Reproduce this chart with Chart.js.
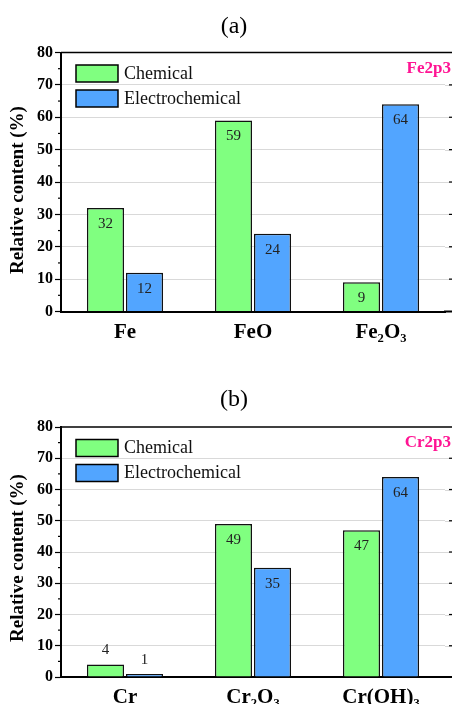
<!DOCTYPE html>
<html>
<head>
<meta charset="utf-8">
<script src="https://cdn.jsdelivr.net/npm/chart.js@4.4.0/dist/chart.umd.min.js"></script>
<style>
body { margin: 0; background: #fff; overflow: hidden; }
canvas { display: block; }
</style>
</head>
<body>
<canvas id="chart-fe" width="452" height="350"></canvas>
<canvas id="chart-cr" width="452" height="354"></canvas>
<script>
var seriesNames = ['Chemical', 'Electrochemical'];

var feLabels = ['Fe', 'FeO', 'Fe\u2082O\u2083'];
var feChemical = [32, 59, 9];
var feElectro = [12, 24, 64];

var crLabels = ['Cr', 'Cr\u2082O\u2083', 'Cr(OH)\u2083'];
var crChemical = [4, 49, 47];
var crElectro = [1, 35, 64];

var yMin = 0, yMax = 80, yStep = 10;

var green = '#80FF80';
var blue = '#52A5FF';
var serif = '"Liberation Serif", "Times New Roman", serif';

// extra drawing: panel title, tag, legend inside plot, value labels, minor ticks
var decor = {
    id: 'decor',
    afterDraw: function (chart, args, opts) {
        var ctx = chart.ctx;
        var area = chart.chartArea;
        var y = chart.scales.y;
        var W = chart.width;
        ctx.save();

        // grid lines carried to the right edge
        ctx.strokeStyle = '#d9d9d9';
        ctx.lineWidth = 1;
        for (var v = yMin + yStep; v < yMax; v += yStep) {
            var py = Math.round(y.getPixelForValue(v)) + 0.5;
            ctx.beginPath();
            ctx.moveTo(area.right, py);
            ctx.lineTo(W, py);
            ctx.stroke();
        }

        // top frame line and bottom axis extension
        ctx.strokeStyle = '#000';
        ctx.lineWidth = 1.5;
        ctx.beginPath();
        ctx.moveTo(area.left, area.top);
        ctx.lineTo(W, area.top);
        ctx.stroke();
        ctx.lineWidth = 2;
        ctx.beginPath();
        ctx.moveTo(area.right - 1, area.bottom);
        ctx.lineTo(W, area.bottom);
        ctx.stroke();

        // minor ticks on the left, small ticks on the right edge
        ctx.lineWidth = 1.2;
        for (var m = yMin + yStep / 2; m < yMax; m += yStep) {
            var my = y.getPixelForValue(m);
            ctx.beginPath();
            ctx.moveTo(area.left - 3, my);
            ctx.lineTo(area.left, my);
            ctx.stroke();
        }
        for (var r = yMin + yStep; r < yMax; r += yStep) {
            var ry = y.getPixelForValue(r);
            ctx.beginPath();
            ctx.moveTo(W - 3, ry);
            ctx.lineTo(W, ry);
            ctx.stroke();
        }

        // panel title
        ctx.fillStyle = '#000';
        ctx.font = '24px ' + serif;
        ctx.textAlign = 'center';
        ctx.textBaseline = 'middle';
        ctx.fillText(opts.title, 234, opts.titleY);

        // tag in the corner
        ctx.fillStyle = '#FF1493';
        ctx.font = 'bold 17px ' + serif;
        ctx.textAlign = 'right';
        ctx.fillText(opts.tag, 451, area.top + 16);

        // legend inside the plot
        chart.data.datasets.forEach(function (ds, i) {
            var by = area.top + 12.5 + i * 25;
            ctx.fillStyle = ds.backgroundColor;
            ctx.fillRect(76, by, 42, 17);
            ctx.strokeStyle = '#000';
            ctx.lineWidth = 1.5;
            ctx.strokeRect(76, by, 42, 17);
            ctx.fillStyle = '#111';
            ctx.font = '18px ' + serif;
            ctx.textAlign = 'left';
            ctx.fillText(ds.label, 124, by + 9);
        });

        // y axis title
        ctx.save();
        ctx.translate(18, opts.yTitleY);
        ctx.rotate(-Math.PI / 2);
        ctx.fillStyle = '#000';
        ctx.font = 'bold 19px ' + serif;
        ctx.textAlign = 'center';
        ctx.fillText('Relative content (%)', 0, 0);
        ctx.restore();

        // value labels
        ctx.font = '15px ' + serif;
        ctx.fillStyle = '#222';
        ctx.textAlign = 'center';
        chart.data.datasets.forEach(function (ds, i) {
            chart.getDatasetMeta(i).data.forEach(function (bar, j) {
                var val = ds.data[j];
                var ly = val >= 5 ? bar.y + 16 : bar.y - 14;
                ctx.fillText(String(val), bar.x, ly);
            });
        });

        ctx.restore();
    }
};

function makeChart(id, labels, chem, elec, o) {
    var ctx = document.getElementById(id).getContext('2d');
    return new Chart(ctx, {
        type: 'bar',
        data: {
            labels: labels,
            datasets: [{
                label: seriesNames[0],
                data: chem,
                backgroundColor: green,
                borderColor: '#111',
                borderWidth: 1.5
            }, {
                label: seriesNames[1],
                data: elec,
                backgroundColor: blue,
                borderColor: '#111',
                borderWidth: 1.5
            }]
        },
        options: {
            responsive: false,
            animation: false,
            categoryPercentage: 0.61,
            barPercentage: 0.95,
            layout: { padding: { top: o.top, right: 7, left: 0, bottom: 0 } },
            plugins: {
                legend: { display: false },
                tooltip: { enabled: false },
                decor: o
            },
            scales: {
                x: {
                    grid: { display: false, drawTicks: false },
                    border: { color: '#000', width: 2 },
                    ticks: {
                        color: '#000',
                        padding: 8,
                        font: { family: serif, size: 21, weight: 'bold' }
                    },
                    afterFit: function (s) { s.height = o.xHeight; }
                },
                y: {
                    min: yMin,
                    max: yMax,
                    ticks: {
                        stepSize: yStep,
                        color: '#000',
                        padding: 2,
                        font: { family: serif, size: 16, weight: 'bold' }
                    },
                    grid: {
                        color: function (c) {
                            return (c.tick && (c.tick.value === yMin || c.tick.value === yMax)) ? 'rgba(0,0,0,0)' : '#d9d9d9';
                        },
                        tickColor: '#000',
                        tickLength: 6,
                        tickWidth: 1.2,
                        lineWidth: 1
                    },
                    border: { color: '#000', width: 2 },
                    afterFit: function (s) { s.width = 61; }
                }
            }
        },
        plugins: [decor]
    });
}

window.onload = function () {
    makeChart('chart-fe', feLabels, feChemical, feElectro,
        { title: '(a)', titleY: 27, tag: 'Fe2p3', top: 52.5, xHeight: 38.5, yTitleY: 190 });
    makeChart('chart-cr', crLabels, crChemical, crElectro,
        { title: '(b)', titleY: 50, tag: 'Cr2p3', top: 77, xHeight: 27, yTitleY: 208 });
};
</script>
</body>
</html>
